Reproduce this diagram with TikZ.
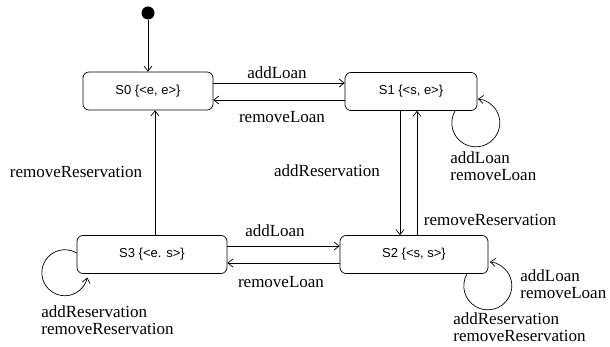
\documentclass[tikz,border=0pt]{standalone}
\usepackage{fontspec}
\setmainfont{Liberation Serif}
\newfontfamily\boxfont{Liberation Sans}
\usetikzlibrary{arrows.meta}
\begin{document}
\begin{tikzpicture}[x=1pt,y=-1pt,
  >={Straight Barb[length=5pt,width=8pt]},
  line width=0.7pt,
  state/.style={draw, rounded corners=6pt, minimum height=38pt, inner sep=0pt,
    font=\boxfont\fontsize{13}{15}\selectfont},
  lbl/.style={inner sep=0pt, font=\fontsize{17}{17.5}\selectfont},
  lblstack/.style={inner sep=0pt, align=left, font=\fontsize{17}{17.5}\selectfont}]
\useasboundingbox (0,0) rectangle (610,347);
% initial state
\node[circle, fill=black, minimum size=13pt, inner sep=0pt] (init) at (148,13) {};
% states
\node[state, minimum width=130pt] (S0) at (148,91) {S0 \{<e, e>\}};
\node[state, minimum width=132pt] (S1) at (411,91.5) {S1 \{<s, e>\}};
\node[state, minimum width=150pt] (S3) at (152,254.5) {S3 \{<e. s>\}};
\node[state, minimum width=148pt] (S2) at (414,254.5) {S2 \{<s, s>\}};
% initial transition
\draw[->] (init) -- (S0.north -| init);
% S0 <-> S1
\draw[->] (S0.east |- 0,83) -- (S1.west |- 0,83);
\draw[->] (S1.west |- 0,100) -- (S0.east |- 0,100);
\node[lbl] (l1) at (277,73) {addLoan};
\node[lbl] (l2) at (282,117) {removeLoan};
% S3 -> S0
\draw[->] (S3.north -| 155,0) -- (S0.south -| 155,0);
\node[lbl] (l3) at (76,172) {removeReservation};
% S1 <-> S2
\draw[->] (S1.south -| 400,0) -- (S2.north -| 400,0);
\draw[->] (S2.north -| 417,0) -- (S1.south -| 417,0);
\node[lbl] (l4) at (327,171) {addReservation};
\node[lbl] (l5) at (490,220) {removeReservation};
% S3 <-> S2
\draw[->] (S3.east |- 0,246) -- (S2.west |- 0,246);
\draw[->] (S2.west |- 0,263) -- (S3.east |- 0,263);
\node[lbl] (l6) at (275,231) {addLoan};
\node[lbl] (l7) at (281,282) {removeLoan};
% self loops
\draw[->] (S1.south -| 455,0) arc[start angle=150, end angle=445, radius=24pt];
\node[lblstack, anchor=north west] (l8) at (450,151) {addLoan\\removeLoan};
\draw[->] (S2.south -| 467,0) arc[start angle=150, end angle=445, radius=24pt];
\node[lblstack, anchor=north west] (l9) at (520,269) {addLoan\\removeLoan};
\node[lblstack, anchor=north west] (l10) at (453,312) {addReservation\\removeReservation};
\draw[->] (S3.west |- 0,253) arc[start angle=59, end angle=348, radius=23pt];
\node[lblstack, anchor=north west] (l11) at (41,305) {addReservation\\removeReservation};
\end{tikzpicture}
\end{document}
